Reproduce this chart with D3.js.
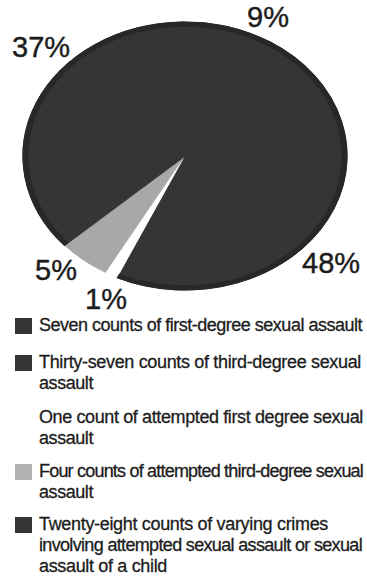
<!DOCTYPE html>
<html><head><meta charset="utf-8">
<script src="https://cdn.jsdelivr.net/npm/d3@7"></script>
<style>body{margin:0;background:#fff}svg{display:block}</style>
</head><body>
<script>
// ---- data ----
const categories = [
  "Seven counts of first-degree sexual assault",
  "Thirty-seven counts of third-degree sexual assault",
  "One count of attempted first degree sexual assault",
  "Four counts of attempted third-degree sexual assault",
  "Twenty-eight counts of varying crimes involving attempted sexual assault or sexual assault of a child"
];
const counts = [7, 37, 1, 4, 28];
const percentLabels = ["9%", "48%", "1%", "5%", "37%"];
const legendLines = [
  ["Seven counts of first-degree sexual assault"],
  ["Thirty-seven counts of third-degree sexual", "assault"],
  ["One count of attempted first degree sexual", "assault"],
  ["Four counts of attempted third-degree sexual", "assault"],
  ["Twenty-eight counts of varying crimes", "involving attempted sexual assault or sexual", "assault of a child"]
];

// ---- layout / style ----
const W = 367, H = 582;
const cx = 185, cy = 156, rx = 162, ry = 134;
const DARK = "#353535";
const fills = [DARK, DARK, "#ffffff", "#a8a8a8", DARK];
const swatchFills = [DARK, DARK, "none", "#b3b3b3", DARK];
const labelPos = [[247, 27], [302, 273], [85, 309], [35, 280], [12, 57]];
const legendBaselines = [331, 368, 423, 477, 530];
// widths each legend line occupies in the reference (px)
const lineWidths = [[323], [322, 54], [324, 54], [324, 54], [289, 323, 128]];
const lineH = 21;

const svg = d3.select("body").append("svg").attr("width", W).attr("height", H)
  .style("font-family", "'Liberation Sans', Arial, Helvetica, sans-serif");

const pie = d3.pie().sort(null).startAngle(-Math.PI / 180).value(d => d);
const arcs = pie(counts);
const arc = d3.arc().innerRadius(0).outerRadius(rx);
const ring = d3.arc().innerRadius(rx - 5).outerRadius(rx);

const g = svg.append("g").attr("transform", `translate(${cx},${cy}) scale(1,${ry / rx})`);
g.selectAll("path.slice").data(arcs).join("path").attr("class", "slice")
  .attr("d", arc).attr("fill", (d, i) => fills[i])
  .attr("stroke", (d, i) => fills[i] === DARK ? DARK : "none")
  .attr("stroke-width", 1.2);
g.selectAll("path.ring").data(arcs.filter((d, i) => fills[i] === DARK)).join("path")
  .attr("class", "ring").attr("d", ring).attr("fill", "#282828")
  .attr("stroke", "#282828").attr("stroke-width", 1);

// percent labels
svg.append("g").selectAll("text").data(percentLabels).join("text")
  .attr("x", (d, i) => labelPos[i][0]).attr("y", (d, i) => labelPos[i][1])
  .attr("font-size", 29).attr("fill", "#1c1c1c")
  .attr("stroke", "#1c1c1c").attr("stroke-width", 0.4)
  .text(d => d);

// legend
const leg = svg.append("g");
legendLines.forEach((lines, i) => {
  const b = legendBaselines[i];
  if (swatchFills[i] !== "none") {
    leg.append("rect").attr("x", 15).attr("y", b - 13).attr("width", 17).attr("height", 16)
      .attr("fill", swatchFills[i]);
  }
  lines.forEach((t, j) => {
    const txt = leg.append("text").attr("x", 39).attr("y", b + j * lineH).attr("font-size", 18)
      .attr("fill", "#1c1c1c").attr("stroke", "#1c1c1c").attr("stroke-width", 0.3)
      .text(t);
    const nat = txt.node().getComputedTextLength();
    const ls = (lineWidths[i][j] - nat) / t.length;
    txt.attr("letter-spacing", ls.toFixed(3));
  });
});
</script>
</body></html>
